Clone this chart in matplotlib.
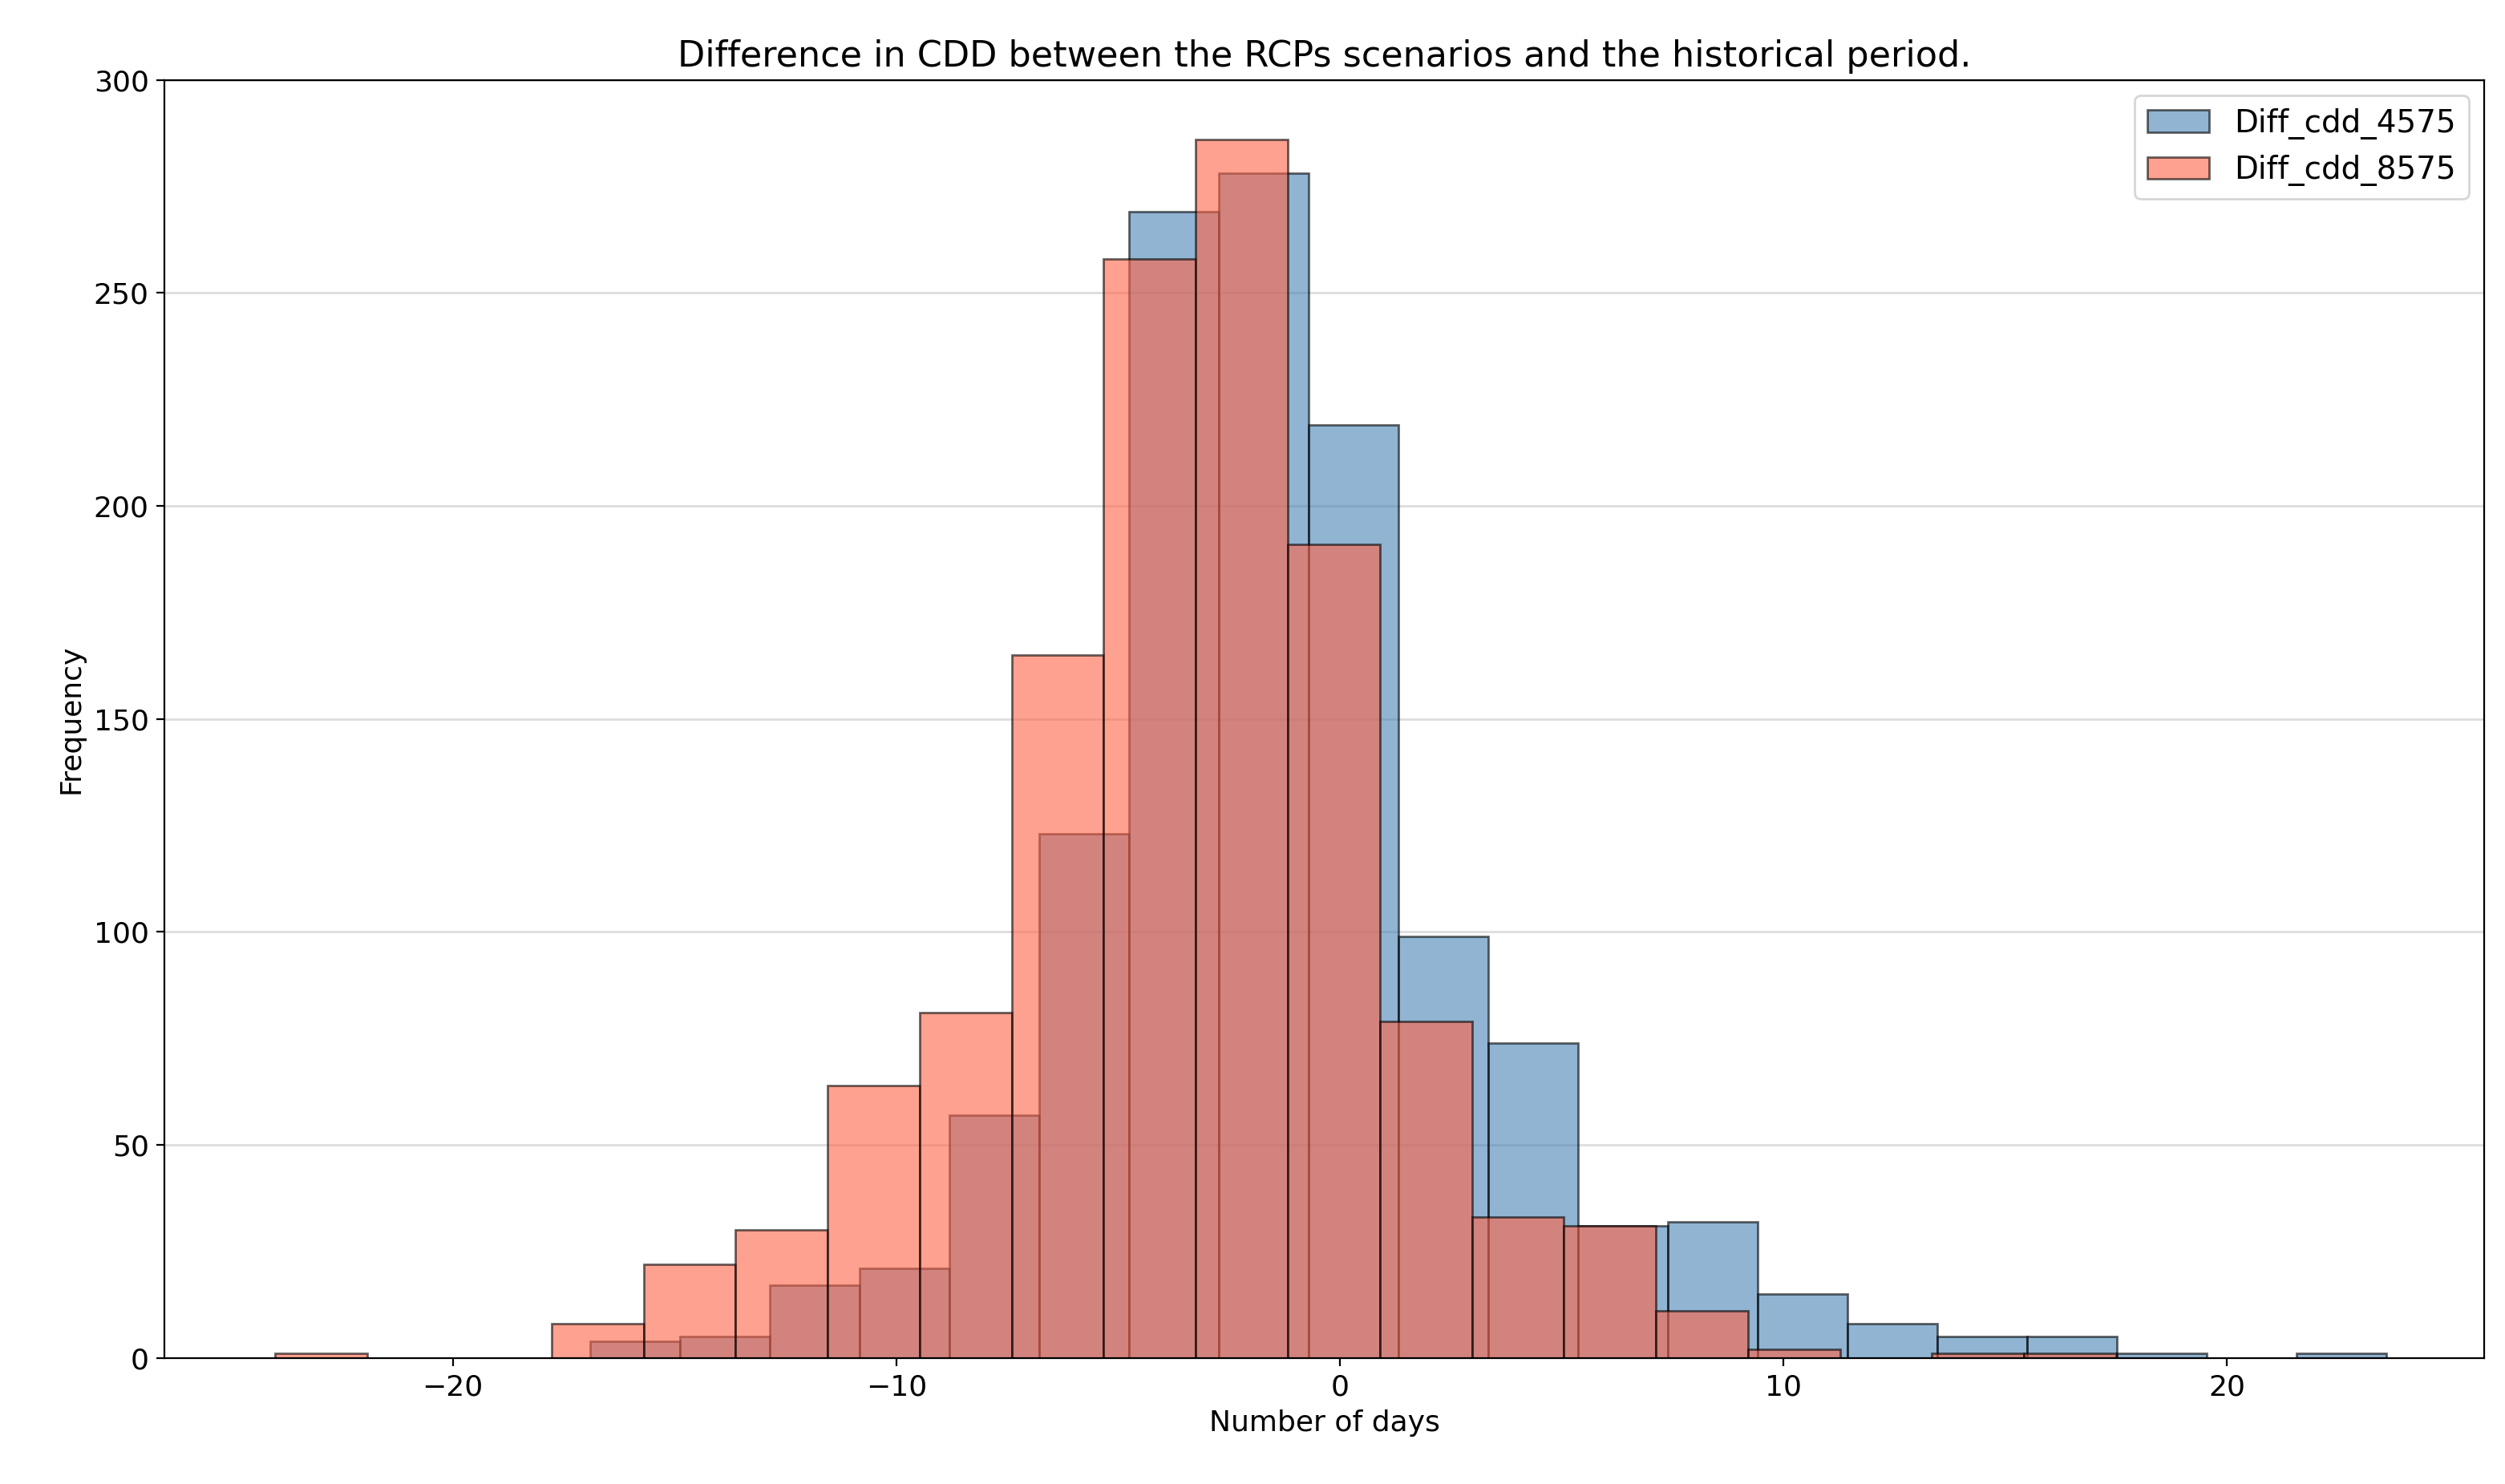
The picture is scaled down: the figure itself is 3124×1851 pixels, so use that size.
import numpy as np
import matplotlib.pyplot as plt

# bin counts
cdd_4575_counts = [4, 5, 17, 21, 57, 123, 269, 278, 219, 99, 74, 31, 32, 15, 8, 5, 5, 1, 0, 1]
cdd_4575_range = (-16.9, 23.6)
cdd_8575_counts = [1, 0, 0, 8, 22, 30, 64, 81, 165, 258, 286, 191, 79, 33, 31, 11, 2, 0, 1, 1]
cdd_8575_range = (-24.0, 17.5)

fig = plt.figure(figsize=(15.62, 9.255), dpi=200)
ax = fig.add_axes([103 / 1568, 1 - 851 / 930, 1452 / 1568, 801 / 930])

for counts, rng, color, label in [
    (cdd_4575_counts, cdd_4575_range, "steelblue", "Diff_cdd_4575"),
    (cdd_8575_counts, cdd_8575_range, "tomato", "Diff_cdd_8575"),
]:
    edges = np.linspace(rng[0], rng[1], len(counts) + 1)
    ax.bar(edges[:-1], counts, width=np.diff(edges), align="edge",
           color=color, alpha=0.6, edgecolor="black", linewidth=1.0, label=label)

ax.set_xlim(-26.5, 25.8)
ax.set_ylim(0, 300)
ax.yaxis.grid(True, color="#dddddd", linewidth=1)
ax.set_axisbelow(True)
ax.tick_params(labelsize=13)
ax.set_title("Difference in CDD between the RCPs scenarios and the historical period.", fontsize=16)
ax.set_xlabel("Number of days", fontsize=13)
ax.set_ylabel("Frequency", fontsize=13)
ax.legend(fontsize=14)

fig.savefig("out.png")
